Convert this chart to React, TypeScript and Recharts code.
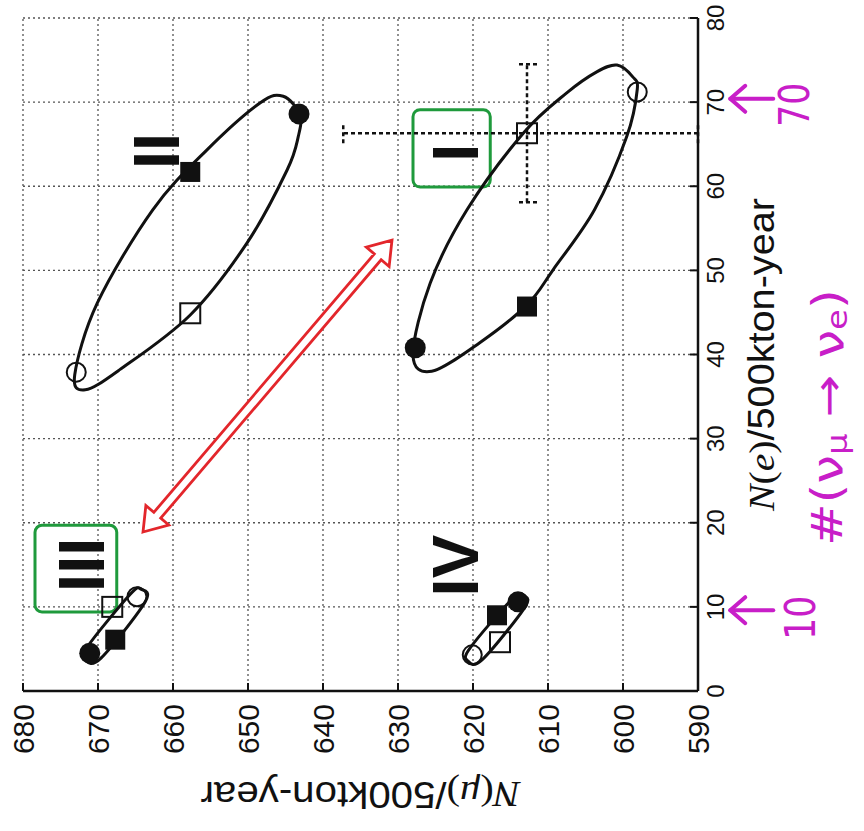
import React from "react";
import {
  ScatterChart,
  Scatter,
  XAxis,
  YAxis,
  CartesianGrid,
  ErrorBar,
  ReferenceArea,
  ReferenceLine,
  ReferenceDot,
} from "recharts";

// The printed figure lies on its side: N(e) is the chart's x axis, N(mu) its y axis,
// and the whole chart is turned a quarter turn to the left when shown.
const W = 831;
const H = 864;
const MARGIN = { top: 23, right: 18, bottom: 0, left: 0 };
const Y_AXIS_W = 140;
const X_AXIS_H = 166;
const PLOT_LEFT = MARGIN.left + Y_AXIS_W;
const PLOT_RIGHT = W - MARGIN.right;
const PLOT_TOP = MARGIN.top;
const PLOT_BOTTOM = H - MARGIN.bottom - X_AXIS_H;

const INK = "#111";
const MAGENTA = "#c81ec8";
const sans = "Liberation Sans, Arial, sans-serif";
const serif = "Liberation Serif, Times New Roman, serif";

const neTicks = [0, 10, 20, 30, 40, 50, 60, 70, 80];
const nmuTicks = [590, 600, 610, 620, 630, 640, 650, 660, 670, 680];

// markers, one entry per case (II, I, III, IV)
const filledCircles = [
  { ne: 68.6, nmu: 643.2 },
  { ne: 40.8, nmu: 627.7 },
  { ne: 4.5, nmu: 671.1 },
  { ne: 10.6, nmu: 614.0 },
];
const filledSquares = [
  { ne: 61.7, nmu: 657.7 },
  { ne: 45.7, nmu: 612.8 },
  { ne: 6.1, nmu: 667.7 },
  { ne: 9.0, nmu: 616.8 },
];
const openSquares = [
  { ne: 44.9, nmu: 657.7 },
  { ne: 66.3, nmu: 612.8 },
  { ne: 10.0, nmu: 668.1 },
  { ne: 5.8, nmu: 616.4 },
];
const openCircles = [
  { ne: 37.9, nmu: 672.9 },
  { ne: 71.2, nmu: 598.1 },
  { ne: 11.2, nmu: 664.8 },
  { ne: 4.3, nmu: 620.1 },
];

// statistical error on the case I open square
const caseIError = [{ ne: 66.3, nmu: 612.8, neErr: 8.2, nmuErr: [22.8, 24.5] }];

// points
const contourII = [
  { ne: 70.7, nmu: 645.3 },
  { ne: 68.5, nmu: 643.1 },
  { ne: 65.9, nmu: 643.3 },
  { ne: 61.9, nmu: 644.8 },
  { ne: 53.3, nmu: 650.1 },
  { ne: 44.7, nmu: 657.7 },
  { ne: 38.2, nmu: 667.1 },
  { ne: 35.8, nmu: 671.7 },
  { ne: 37.6, nmu: 673.1 },
  { ne: 46.1, nmu: 670.1 },
  { ne: 57.2, nmu: 662.7 },
  { ne: 64.3, nmu: 655.5 },
  { ne: 69.9, nmu: 648.4 },
];
const contourI = [
  { ne: 74.4, nmu: 600.8 },
  { ne: 73.0, nmu: 598.7 },
  { ne: 71.5, nmu: 598.1 },
  { ne: 65.9, nmu: 599.5 },
  { ne: 57.2, nmu: 603.8 },
  { ne: 50.1, nmu: 609.3 },
  { ne: 45.9, nmu: 612.8 },
  { ne: 41.4, nmu: 619.1 },
  { ne: 38.0, nmu: 625.5 },
  { ne: 40.0, nmu: 628.0 },
  { ne: 48.5, nmu: 625.7 },
  { ne: 57.2, nmu: 620.8 },
  { ne: 66.3, nmu: 613.3 },
  { ne: 71.1, nmu: 607.5 },
  { ne: 73.6, nmu: 603.5 },
];
const contourIII = [
  { ne: 3.7, nmu: 671.7 },
  { ne: 5.4, nmu: 671.3 },
  { ne: 11.5, nmu: 665.7 },
  { ne: 12.1, nmu: 664.3 },
  { ne: 10.6, nmu: 663.7 },
  { ne: 3.9, nmu: 669.6 },
];
const contourIV = [
  { ne: 3.6, nmu: 620.7 },
  { ne: 5.1, nmu: 620.4 },
  { ne: 10.9, nmu: 614.8 },
  { ne: 11.3, nmu: 613.1 },
  { ne: 9.8, nmu: 613.2 },
  { ne: 3.7, nmu: 618.8 },
];
const contours = [contourII, contourI, contourIII, contourIV];

const romanLabels = [
  { ne: 64.2, nmu: 662.2, text: "II" },
  { ne: 64.0, nmu: 622.4, text: "I" },
  { ne: 15.0, nmu: 672.2, text: "III" },
  { ne: 14.9, nmu: 622.4, text: "IV" },
];

// hand-drawn marks on the scan
const greenBoxes = [
  { ne1: 59.9, ne2: 69.1, nmu1: 617.7, nmu2: 628.0 },
  { ne1: 9.4, ne2: 19.7, nmu1: 667.5, nmu2: 678.4 },
];
const redArrow = [
  { ne: 18.9, nmu: 664.0 },
  { ne: 53.6, nmu: 630.8 },
];
const handArrows = [
  { ne: 9.6, nmu: 585.7 },
  { ne: 70.4, nmu: 585.7 },
];
const handNumbers = [
  { ne: 8.7, nmu: 576.4, text: "10" },
  { ne: 69.7, nmu: 577.1, text: "70" },
];
const handNote = { ne: 32.5, nmu: 572.7 };

// closed smooth curve through the contour points (Catmull-Rom)
function closedLoop(context: any) {
  let pts: number[][] = [];
  return {
    areaStart() {},
    areaEnd() {},
    lineStart() {
      pts = [];
    },
    point(x: number, y: number) {
      pts.push([+x, +y]);
    },
    lineEnd() {
      const n = pts.length;
      if (n < 3) return;
      context.moveTo(pts[0][0], pts[0][1]);
      for (let i = 0; i < n; i++) {
        const p0 = pts[(i + n - 1) % n];
        const p1 = pts[i];
        const p2 = pts[(i + 1) % n];
        const p3 = pts[(i + 2) % n];
        context.bezierCurveTo(
          p1[0] + (p2[0] - p0[0]) / 6,
          p1[1] + (p2[1] - p0[1]) / 6,
          p2[0] - (p3[0] - p1[0]) / 6,
          p2[1] - (p3[1] - p1[1]) / 6,
          p2[0],
          p2[1]
        );
      }
      context.closePath();
    },
  };
}

const R = 10.5;
const S = 20;
const noShape = () => <g />;
const filledCircle = (p: any) => <circle cx={p.cx} cy={p.cy} r={R} fill={INK} />;
const openCircle = (p: any) => (
  <circle cx={p.cx} cy={p.cy} r={R - 1} fill="none" stroke={INK} strokeWidth={2} />
);
const filledSquare = (p: any) => (
  <rect x={p.cx - S / 2} y={p.cy - S / 2} width={S} height={S} fill={INK} />
);
const openSquare = (p: any) => (
  <rect x={p.cx - S / 2} y={p.cy - S / 2} width={S} height={S} fill="none" stroke={INK} strokeWidth={2} />
);
const romanText = (p: any) => (
  <text
    x={p.cx}
    y={p.cy}
    textAnchor="middle"
    dominantBaseline="central"
    fontFamily={sans}
    fontWeight="bold"
    fontSize={65}
    fill={INK}
  >
    {p.payload.text}
  </text>
);

const GreenBox = (p: any) => (
  <rect x={p.x} y={p.y} width={p.width} height={p.height} rx={7} fill="none" stroke="#1f9a3c" strokeWidth={3} />
);

function DoubleArrow(p: any) {
  const { x1, y1, x2, y2 } = p;
  const len = Math.hypot(x2 - x1, y2 - y1) || 1;
  const ux = (x2 - x1) / len;
  const uy = (y2 - y1) / len;
  const nx = -uy;
  const ny = ux;
  const L = 22;
  const h = 15;
  const s = 4.5;
  const at = (bx: number, by: number, a: number, b: number) =>
    `${bx + ux * a + nx * b},${by + uy * a + ny * b}`;
  const pts = [
    at(x1, y1, 0, 0),
    at(x1, y1, L, h),
    at(x1, y1, L, s),
    at(x2, y2, -L, s),
    at(x2, y2, -L, h),
    at(x2, y2, 0, 0),
    at(x2, y2, -L, -h),
    at(x2, y2, -L, -s),
    at(x1, y1, L, -s),
    at(x1, y1, L, -h),
  ];
  return <polygon points={pts.join(" ")} fill="#fff" stroke="#e3262b" strokeWidth={2.8} />;
}

const HandArrow = (p: any) => (
  <g stroke={MAGENTA} strokeWidth={4} strokeLinecap="round" strokeLinejoin="round" fill="none">
    <line x1={p.cx} y1={p.cy} x2={p.cx} y2={p.cy + 43} />
    <polyline points={`${p.cx - 13},${p.cy + 15} ${p.cx},${p.cy} ${p.cx + 13},${p.cy + 15}`} />
  </g>
);

const handNumber = (text: string) => (p: any) => (
  <text
    x={p.cx}
    y={p.cy}
    textAnchor="middle"
    dominantBaseline="central"
    fontFamily="DejaVu Sans"
    fontSize={42}
    fill={MAGENTA}
    textLength={44}
    lengthAdjust="spacingAndGlyphs"
  >
    {text}
  </text>
);

const HandNote = (p: any) => (
  <text
    x={p.cx}
    y={p.cy}
    textAnchor="middle"
    dominantBaseline="central"
    fontFamily="DejaVu Sans"
    fontSize={42}
    fill={MAGENTA}
    textLength={257}
    lengthAdjust="spacingAndGlyphs"
  >
    #(ν
    <tspan fontSize={28} dy={9}>
      μ
    </tspan>
    <tspan dy={-9}>{" → ν"}</tspan>
    <tspan fontSize={28} dy={9}>
      e
    </tspan>
    <tspan dy={-9}>)</tspan>
  </text>
);

const NeLabel = () => (
  <text
    x={(PLOT_LEFT + PLOT_RIGHT) / 2}
    y={PLOT_BOTTOM + 76}
    textAnchor="middle"
    fontFamily={sans}
    fontSize={36}
    fill={INK}
    textLength={313}
    lengthAdjust="spacingAndGlyphs"
  >
    <tspan fontFamily={serif} fontStyle="italic">N</tspan>
    <tspan fontFamily={serif}>(</tspan>
    <tspan fontFamily={serif} fontStyle="italic">e</tspan>
    <tspan fontFamily={serif}>)</tspan>
    <tspan>/500kton-year</tspan>
  </text>
);

const MuLabel = () => {
  const x = PLOT_LEFT - 91;
  const y = (PLOT_TOP + PLOT_BOTTOM) / 2;
  return (
    <text
      x={x}
      y={y}
      transform={`rotate(-90 ${x} ${y})`}
      textAnchor="middle"
      fontFamily={sans}
      fontSize={36}
      fill={INK}
      textLength={320}
      lengthAdjust="spacingAndGlyphs"
    >
      <tspan fontFamily={serif} fontStyle="italic">N</tspan>
      <tspan fontFamily={serif}>(</tspan>
      <tspan fontFamily={serif} fontStyle="italic">μ</tspan>
      <tspan fontFamily={serif}>)</tspan>
      <tspan>/500kton-year</tspan>
    </text>
  );
};

const axisLine = { stroke: INK, strokeWidth: 2.5 };
const tickLine = { stroke: INK, strokeWidth: 2 };

export default function App() {
  return (
    <div
      style={{
        position: "absolute",
        left: 0,
        top: 0,
        width: 864,
        height: 831,
        overflow: "hidden",
        background: "#fff",
      }}
    >
      <div
        style={{
          position: "absolute",
          left: 0,
          top: 0,
          width: W,
          height: H,
          transformOrigin: "0 0",
          transform: `translateY(${W}px) rotate(-90deg)`,
          fontFamily: sans,
        }}
      >
        <ScatterChart width={W} height={H} margin={MARGIN}>
          <CartesianGrid stroke="#555" strokeWidth={1.3} strokeDasharray="2 3" />
          <XAxis
            dataKey="ne"
            type="number"
            domain={[0, 80]}
            ticks={neTicks}
            interval={0}
            allowDataOverflow
            height={X_AXIS_H}
            tickSize={-8}
            tickMargin={17}
            axisLine={axisLine}
            tickLine={tickLine}
            tick={{ fontSize: 24, fill: INK, fontFamily: sans }}
            label={{ content: NeLabel }}
          />
          <XAxis
            xAxisId="top"
            orientation="top"
            type="number"
            domain={[0, 80]}
            ticks={neTicks}
            interval={0}
            allowDataOverflow
            height={0}
            tickSize={-8}
            axisLine={axisLine}
            tickLine={tickLine}
            tick={false}
          />
          <YAxis
            dataKey="nmu"
            type="number"
            domain={[590, 680]}
            ticks={nmuTicks}
            interval={0}
            allowDataOverflow
            width={Y_AXIS_W}
            tickSize={-8}
            tickMargin={21}
            axisLine={axisLine}
            tickLine={tickLine}
            tick={{ fontSize: 30, fill: INK, fontFamily: sans }}
            label={{ content: MuLabel }}
          />
          <YAxis
            yAxisId="right"
            orientation="right"
            type="number"
            domain={[590, 680]}
            ticks={nmuTicks}
            interval={0}
            allowDataOverflow
            width={0}
            tickSize={-8}
            axisLine={axisLine}
            tickLine={tickLine}
            tick={false}
          />

          {contours.map((c, i) => (
            <Scatter
              key={`contour-${i}`}
              data={c}
              shape={noShape}
              line={{ stroke: INK, strokeWidth: 3 }}
              lineJointType={closedLoop as any}
              isAnimationActive={false}
            />
          ))}

          <Scatter data={caseIError} shape={noShape} isAnimationActive={false}>
            <ErrorBar dataKey="neErr" direction="x" width={10} stroke={INK} strokeWidth={2.5} strokeDasharray="4 3" />
            <ErrorBar dataKey="nmuErr" direction="y" width={10} stroke={INK} strokeWidth={2.5} strokeDasharray="4 3" />
          </Scatter>

          <Scatter data={openSquares} shape={openSquare} isAnimationActive={false} />
          <Scatter data={openCircles} shape={openCircle} isAnimationActive={false} />
          <Scatter data={filledSquares} shape={filledSquare} isAnimationActive={false} />
          <Scatter data={filledCircles} shape={filledCircle} isAnimationActive={false} />
          <Scatter data={romanLabels} shape={romanText} isAnimationActive={false} />

          {greenBoxes.map((b, i) => (
            <ReferenceArea
              key={`box-${i}`}
              x1={b.ne1}
              x2={b.ne2}
              y1={b.nmu1}
              y2={b.nmu2}
              ifOverflow="visible"
              shape={GreenBox}
            />
          ))}

          <ReferenceLine
            segment={[
              { x: redArrow[0].ne, y: redArrow[0].nmu },
              { x: redArrow[1].ne, y: redArrow[1].nmu },
            ]}
            ifOverflow="visible"
            shape={DoubleArrow}
          />

          {handArrows.map((a, i) => (
            <ReferenceDot key={`harrow-${i}`} x={a.ne} y={a.nmu} ifOverflow="visible" shape={HandArrow} />
          ))}
          {handNumbers.map((n, i) => (
            <ReferenceDot key={`hnum-${i}`} x={n.ne} y={n.nmu} ifOverflow="visible" shape={handNumber(n.text)} />
          ))}
          <ReferenceDot x={handNote.ne} y={handNote.nmu} ifOverflow="visible" shape={HandNote} />
        </ScatterChart>
      </div>
    </div>
  );
}
